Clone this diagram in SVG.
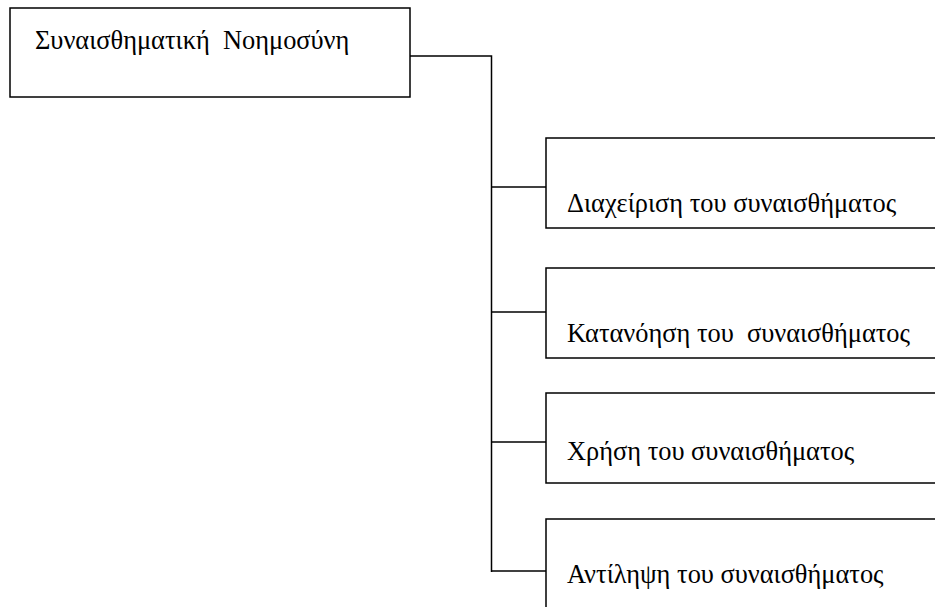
<svg xmlns="http://www.w3.org/2000/svg" width="935" height="607" viewBox="0 0 935 607">
<style>
.box{fill:#fff;stroke:#000;stroke-width:1.5}
.lbl{font-family:"Liberation Serif","DejaVu Serif",serif;font-size:26.4px;fill:#000}
.con{fill:none;stroke:#000;stroke-width:1.5}
</style>
<rect width="935" height="607" fill="#fff"/>
<g id="connectors">
<polyline class="con" points="410,56 491.5,56 491.5,572"/>
<line class="con" x1="491.5" y1="187" x2="546" y2="187"/>
<line class="con" x1="491.5" y1="312" x2="546" y2="312"/>
<line class="con" x1="491.5" y1="442" x2="546" y2="442"/>
<line class="con" x1="491.5" y1="571" x2="546" y2="571"/>
</g>
<g id="root">
<rect class="box" x="10" y="8" width="400" height="89"/>
<text class="lbl" x="35" y="49" xml:space="preserve">Συναισθηματική  Νοημοσύνη</text>
</g>
<g id="n1">
<rect class="box" x="546" y="138" width="400" height="90"/>
<text class="lbl" x="567" y="212">Διαχείριση του συναισθήματος</text>
</g>
<g id="n2">
<rect class="box" x="546" y="268" width="400" height="90"/>
<text class="lbl" x="567" y="342" xml:space="preserve">Κατανόηση του  συναισθήματος</text>
</g>
<g id="n3">
<rect class="box" x="546" y="393" width="400" height="90"/>
<text class="lbl" x="567" y="460">Χρήση του συναισθήματος</text>
</g>
<g id="n4">
<rect class="box" x="546" y="519" width="400" height="100"/>
<text class="lbl" x="567" y="583">Αντίληψη του συναισθήματος</text>
</g>
</svg>
